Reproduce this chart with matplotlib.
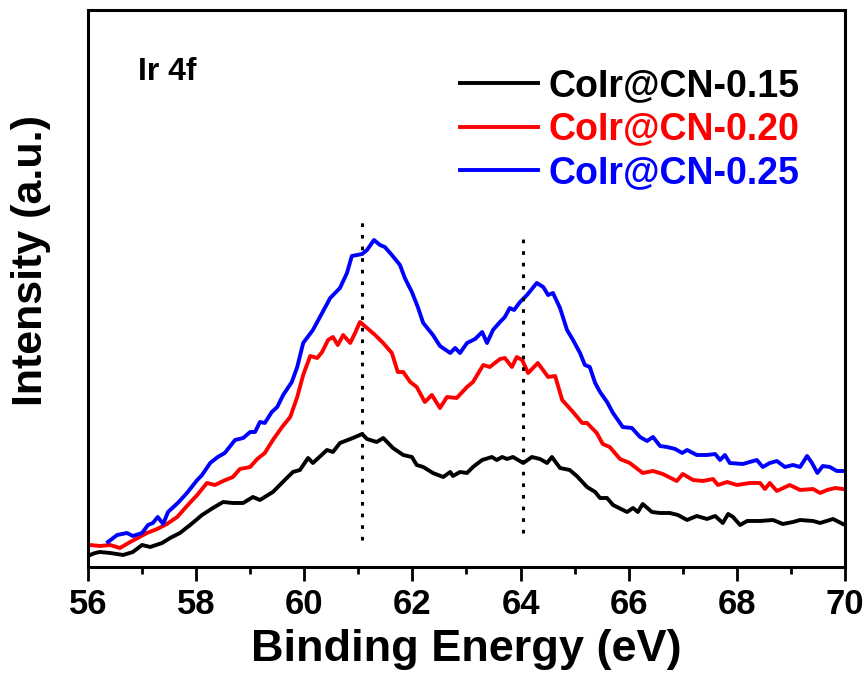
import matplotlib
matplotlib.use("Agg")
import matplotlib.pyplot as plt
from matplotlib.ticker import MultipleLocator

# Ir 4f XPS (intensity in arbitrary units)
be_015 = [56.04, 56.13, 56.22, 56.41, 56.65, 56.83, 57.00, 57.15, 57.37, 57.52,
          57.70, 57.89, 58.11, 58.31, 58.50, 58.68, 58.87, 59.05, 59.18, 59.42,
          59.64, 59.79, 59.92, 60.07, 60.16, 60.42, 60.53, 60.66, 60.90, 61.07,
          61.16, 61.34, 61.46, 61.64, 61.83, 61.99, 62.08, 62.20, 62.38, 62.57,
          62.70, 62.75, 62.88, 63.01, 63.12, 63.29, 63.47, 63.56, 63.66, 63.75,
          63.86, 64.05, 64.21, 64.36, 64.49, 64.58, 64.73, 64.91, 65.04, 65.23,
          65.38, 65.47, 65.60, 65.71, 65.97, 66.08, 66.17, 66.26, 66.43, 66.58,
          66.76, 66.91, 67.08, 67.26, 67.45, 67.60, 67.74, 67.84, 67.93, 68.06,
          68.19, 68.43, 68.67, 68.85, 69.04, 69.17, 69.41, 69.54, 69.78, 69.96]
int_015 = [12, 14, 15, 14, 12, 15, 22, 20, 24, 29,
           34, 42, 52, 59, 65, 64, 64, 70, 67, 75,
           87, 95, 97, 109, 104, 117, 115, 124, 129, 133,
           128, 125, 129, 119, 112, 110, 102, 100, 94, 90,
           95, 91, 95, 94, 100, 107, 110, 107, 110, 108,
           110, 104, 110, 108, 104, 110, 99, 97, 91, 80,
           75, 69, 69, 62, 55, 59, 55, 63, 55, 54,
           54, 52, 47, 51, 48, 51, 44, 53, 50, 42,
           46, 46, 47, 43, 45, 47, 46, 44, 48, 43]

be_020 = [56.04, 56.22, 56.41, 56.59, 56.78, 56.92, 57.09, 57.28, 57.46, 57.65,
          57.83, 58.02, 58.20, 58.35, 58.50, 58.68, 58.81, 59.00, 59.13, 59.27,
          59.42, 59.59, 59.74, 59.87, 59.98, 60.11, 60.24, 60.33, 60.44, 60.53,
          60.62, 60.72, 60.85, 60.94, 61.03, 61.16, 61.31, 61.46, 61.62, 61.73,
          61.83, 61.96, 62.08, 62.23, 62.36, 62.51, 62.64, 62.82, 63.01, 63.12,
          63.31, 63.43, 63.62, 63.71, 63.84, 63.93, 64.03, 64.14, 64.32, 64.51,
          64.64, 64.77, 64.97, 65.14, 65.23, 65.41, 65.52, 65.65, 65.84, 66.02,
          66.26, 66.45, 66.63, 66.89, 67.00, 67.19, 67.37, 67.56, 67.65, 67.82,
          68.00, 68.24, 68.43, 68.52, 68.61, 68.74, 68.98, 69.17, 69.41, 69.54,
          69.67, 69.82, 69.96]
int_020 = [22, 21, 22, 19, 25, 29, 34, 38, 43, 50,
           61, 72, 84, 82, 86, 90, 98, 100, 108, 114,
           127, 140, 150, 170, 192, 211, 209, 215, 227, 230,
           222, 232, 224, 234, 245, 239, 232, 224, 214, 195,
           195, 185, 180, 165, 172, 159, 170, 169, 180, 185,
           202, 200, 208, 209, 200, 210, 207, 194, 204, 190,
           191, 167, 155, 144, 144, 134, 123, 120, 108, 104,
           94, 96, 93, 86, 93, 87, 86, 88, 82, 85,
           82, 84, 84, 78, 84, 76, 82, 77, 78, 74,
           77, 79, 78]

be_025 = [56.37, 56.54, 56.72, 56.83, 57.00, 57.11, 57.20, 57.29, 57.39, 57.48,
          57.66, 57.83, 58.02, 58.11, 58.26, 58.40, 58.53, 58.72, 58.87, 59.00,
          59.09, 59.18, 59.27, 59.40, 59.50, 59.61, 59.77, 59.87, 59.98, 60.16,
          60.29, 60.48, 60.66, 60.79, 60.88, 61.07, 61.16, 61.29, 61.40, 61.49,
          61.62, 61.77, 61.86, 61.99, 62.10, 62.20, 62.38, 62.51, 62.70, 62.79,
          62.88, 63.01, 63.16, 63.29, 63.38, 63.49, 63.62, 63.71, 63.80, 63.88,
          63.99, 64.12, 64.30, 64.42, 64.51, 64.60, 64.73, 64.86, 64.97, 65.10,
          65.19, 65.28, 65.38, 65.47, 65.60, 65.71, 65.89, 66.06, 66.21, 66.34,
          66.45, 66.58, 66.71, 66.86, 66.99, 67.08, 67.26, 67.45, 67.60, 67.69,
          67.78, 67.87, 68.11, 68.37, 68.48, 68.61, 68.74, 68.89, 69.04, 69.17,
          69.30, 69.39, 69.49, 69.59, 69.72, 69.85, 69.96]
int_025 = [25, 32, 34, 31, 34, 42, 44, 50, 43, 55,
           64, 74, 87, 92, 104, 110, 114, 127, 129, 135,
           135, 145, 144, 155, 160, 172, 185, 200, 224, 237,
           250, 269, 279, 294, 311, 313, 317, 327, 322, 320,
           312, 302, 289, 275, 260, 244, 232, 221, 214, 219,
           214, 224, 228, 235, 224, 237, 245, 250, 259, 257,
           265, 272, 284, 280, 272, 274, 259, 237, 227, 214,
           202, 200, 184, 175, 165, 154, 140, 139, 130, 126,
           130, 121, 120, 118, 114, 117, 112, 112, 113, 107,
           112, 104, 103, 107, 100, 104, 106, 100, 102, 100,
           111, 104, 94, 101, 100, 96, 96]

labels = ["CoIr@CN-0.15", "CoIr@CN-0.20", "CoIr@CN-0.25"]
colors = ["#000000", "#ff0000", "#0000ff"]
peak_pos = [61.07, 64.05]
peak_top = [349, 334]
peak_bottom = [27, 34]

plt.rcParams["font.family"] = ["Liberation Sans", "DejaVu Sans"]
plt.rcParams["font.weight"] = "bold"

fig = plt.figure(figsize=(8.66, 6.77), dpi=100)
ax = fig.add_axes([0.1016, 0.1625, 0.8741, 0.8227])

for x, y, lab, c in zip([be_015, be_020, be_025], [int_015, int_020, int_025],
                        labels, colors):
    ax.plot(x, y, color=c, lw=2.8, label=lab)

for xp, top, bot in zip(peak_pos, peak_top, peak_bottom):
    ax.vlines(xp, bot, top, colors="black", lw=2.2, linestyles=(0, (1.2, 2.6)))

ax.set_xlim(56, 70)
ax.set_ylim(0, 557)
ax.xaxis.set_major_locator(MultipleLocator(2))
ax.xaxis.set_minor_locator(MultipleLocator(1))
ax.set_yticks([])
ax.tick_params(axis="x", which="major", direction="out", length=10, width=2,
               labelsize=25, pad=5)
ax.tick_params(axis="x", which="minor", direction="out", length=5, width=2)
for sp in ax.spines.values():
    sp.set_linewidth(2.2)

ax.set_xlabel("Binding Energy (eV)", fontsize=32.5, fontweight="bold", labelpad=6)
ax.set_ylabel("Intensity (a.u.)", fontsize=31, fontweight="bold")
ax.yaxis.set_label_coords(-0.049, 0.55)

ax.text(0.066, 0.889, "Ir 4f", transform=ax.transAxes, fontsize=23,
        fontweight="bold", va="center", ha="left")

leg = ax.legend(loc="upper right", bbox_to_anchor=(0.94, 0.895), frameon=False,
                fontsize=27, handlelength=2.08, handletextpad=0.27,
                labelspacing=0.19, borderpad=0, borderaxespad=0,
                labelcolor="linecolor")

fig.savefig("out.png", dpi=100)
